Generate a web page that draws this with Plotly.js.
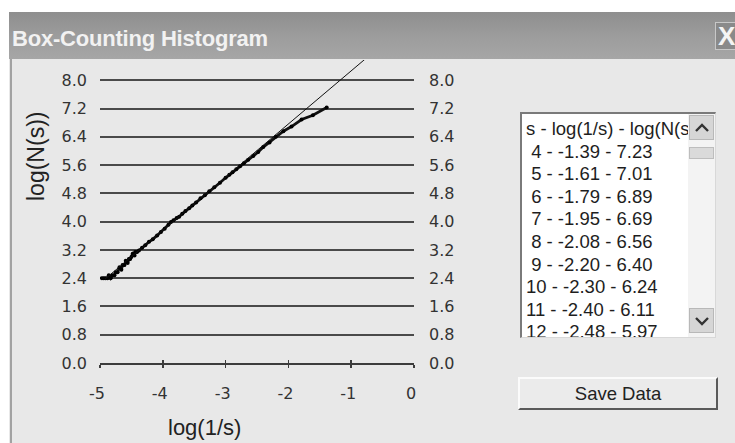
<!DOCTYPE html>
<html>
<head>
<meta charset="utf-8">
<script src="https://cdn.plot.ly/plotly-3.0.1.min.js"></script>
<style>
  html, body { margin:0; padding:0; width:735px; height:443px; overflow:hidden; background:#ffffff; }
  #dlg { position:absolute; left:9px; top:12px; width:726px; height:431px; background:#e8e8e8; }
  #leftborder { position:absolute; left:10px; top:59px; width:2px; height:384px; background:#a2a2a2; }
  #titlebar { position:absolute; left:9px; top:12px; width:726px; height:47px;
    background:linear-gradient(#8e8e8e, #9c9c9c 50%, #a6a6a6); }
  #titletext { position:absolute; left:12px; top:28px; font-family:"Liberation Sans", Arial, sans-serif;
    font-weight:bold; font-size:22px; line-height:22px; color:#f2f2f2; white-space:nowrap; letter-spacing:-0.2px; }
  #closebtn { position:absolute; left:715px; top:22px; width:22px; height:28px; background:#8a8a8a;
    border:1px solid #c8c8c8; box-sizing:border-box; color:#f4f4f4; font-family:"Liberation Sans", Arial, sans-serif;
    font-weight:bold; font-size:26px; line-height:26px; padding-left:2px; }
  #plot { position:absolute; left:0; top:0; width:735px; height:443px; }
  #listbox { position:absolute; left:520px; top:112px; width:196px; height:226px; background:#ffffff;
    border-top:2px solid #7a7a7a; border-left:2px solid #7a7a7a; border-right:1px solid #d8d8d8; border-bottom:1px solid #d8d8d8;
    box-sizing:border-box; overflow:hidden; }
  #listtext { position:absolute; left:4px; top:4px; width:162px; overflow:hidden; font-family:"Liberation Sans", Arial, sans-serif;
    font-size:18.5px; line-height:22.6px; color:#1e1e1e; white-space:nowrap; }
  #scroll { position:absolute; right:0px; top:0px; width:27px; height:223px; background:#f3f3f3; }
  .sbtn { position:absolute; left:1px; width:25px; height:25px; background:#d6d6d6; border:1px solid #b8b8b8; box-sizing:border-box; }
  .sbtn svg { position:absolute; left:5px; top:7px; }
  #thumb { position:absolute; left:1px; top:33px; width:25px; height:12px; background:#dadada; border:1px solid #bdbdbd; box-sizing:border-box; }
  #savebtn { position:absolute; left:518px; top:377px; width:200px; height:33px; box-sizing:border-box;
    border-top:2px solid #fbfbfb; border-left:2px solid #fbfbfb; border-right:2px solid #5a5a5a; border-bottom:2px solid #5a5a5a;
    background:#ebebeb; text-align:center; font-family:"Liberation Sans", Arial, sans-serif; font-size:18.5px; line-height:29px; color:#222; }
</style>
</head>
<body>
<div id="dlg"></div>
<div id="leftborder"></div>
<div id="plot"></div>
<div id="titlebar"></div>
<div id="titletext">Box-Counting Histogram</div>
<div id="closebtn">X</div>
<div id="listbox">
  <div id="listtext"></div>
  <div id="scroll">
    <div class="sbtn" style="top:1px;"><svg width="14" height="10"><polyline points="1,8 7,2 13,8" fill="none" stroke="#333" stroke-width="2.4"/></svg></div>
    <div id="thumb"></div>
    <div class="sbtn" style="top:194px;"><svg width="14" height="10"><polyline points="1,2 7,8 13,2" fill="none" stroke="#333" stroke-width="2.4"/></svg></div>
  </div>
</div>
<div id="savebtn">Save Data</div>
<script>
// ---- data ----
const listHeader = "s - log(1/s) - log(N(s))";
const listS = [4, 5, 6, 7, 8, 9, 10, 11, 12];
const listLogInvS = ["-1.39", "-1.61", "-1.79", "-1.95", "-2.08", "-2.20", "-2.30", "-2.40", "-2.48"];
const listLogN = ["7.23", "7.01", "6.89", "6.69", "6.56", "6.40", "6.24", "6.11", "5.97"];

const logInvS = [-1.39,-1.61,-1.79,-1.95,-2.08,-2.20,-2.30,-2.40,-2.48,-2.56,-2.64,-2.71,-2.77,-2.83,-2.89,-2.94,-3.00,-3.09,-3.18,-3.26,-3.33,-3.40,-3.47,-3.53,-3.58,-3.64,-3.69,-3.74,-3.78,-3.83,-3.87,-3.91,-3.97,-4.03,-4.09,-4.16,-4.22,-4.28,-4.33,-4.38,-4.41,-4.44,-4.45,-4.48,-4.50,-4.52,-4.54,-4.56,-4.59,-4.61,-4.64,-4.66,-4.69,-4.72,-4.75,-4.77,-4.80,-4.83,-4.86,-4.88,-4.91,-4.94,-4.97];
const logN = [7.23,7.01,6.89,6.69,6.56,6.40,6.24,6.11,5.97,5.86,5.75,5.65,5.57,5.48,5.40,5.33,5.24,5.10,4.97,4.86,4.75,4.66,4.54,4.46,4.38,4.30,4.22,4.14,4.10,4.04,3.99,3.91,3.80,3.71,3.61,3.50,3.43,3.33,3.26,3.18,3.14,3.14,3.04,3.09,3.00,2.94,2.94,2.83,2.89,2.77,2.77,2.64,2.71,2.57,2.57,2.48,2.48,2.40,2.48,2.40,2.40,2.40,2.40];

const fitSlope = 1.503;
const fitIntercept = 9.77;
const fitXRange = [-4.92, -0.5];

const yTicks = [0, 0.8, 1.6, 2.4, 3.2, 4.0, 4.8, 5.6, 6.4, 7.2, 8.0];
const yTickText = ["0.0", "0.8", "1.6", "2.4", "3.2", "4.0", "4.8", "5.6", "6.4", "7.2", "8.0"];
const xTicks = [-5, -4, -3, -2, -1, 0];
const xTickText = ["-5", "-4", "-3", "-2", "-1", "0"];

// ---- list box ----
const lt = document.getElementById('listtext');
let html = '<div>' + listHeader + '</div>';
listS.forEach((s, i) => {
  const pad = s < 10 ? '&nbsp;' : '';
  html += '<div>' + pad + s + ' - ' + listLogInvS[i] + ' - ' + listLogN[i] + '</div>';
});
lt.innerHTML = html;

// ---- chart ----
const fitY = fitXRange.map(x => fitIntercept + fitSlope * x);
const yRange = [0, 8.574];
const xRange = [-5, 0];
const tickFont = {family: 'DejaVu Sans, sans-serif', size: 16, color: '#333333'};

const traces = [
  {x: fitXRange, y: fitY, xaxis: 'x2', yaxis: 'y2', mode: 'lines', line: {color: '#111111', width: 1}, hoverinfo: 'skip'},
  {x: logInvS, y: logN, mode: 'lines+markers', line: {color: '#111111', width: 2.8}, marker: {color: '#000000', size: 4}}
];

const layout = {
  width: 735, height: 443,
  margin: {l: 100, r: 321, t: 60, b: 80, pad: 0},
  paper_bgcolor: 'rgba(0,0,0,0)', plot_bgcolor: 'rgba(0,0,0,0)',
  showlegend: false,
  xaxis: {range: xRange, tickvals: xTicks, ticktext: xTickText, showgrid: false, zeroline: false,
    showline: true, linecolor: '#3c3c3c', linewidth: 2, ticks: 'outside', ticklen: 3, tickwidth: 1.5, tickcolor: '#3c3c3c',
    tickfont: tickFont, ticklabelstandoff: 12, ticklabelshift: -3, fixedrange: true},
  xaxis2: {range: xRange, overlaying: 'x', anchor: 'y2', side: 'bottom', tickvals: xTicks, showticklabels: false,
    showgrid: false, zeroline: false, ticks: 'inside', ticklen: 3, tickwidth: 1.5, tickcolor: '#3c3c3c', fixedrange: true},
  yaxis: {range: yRange, tickvals: yTicks, ticktext: yTickText, showgrid: true, gridcolor: '#4a4a4a', gridwidth: 2,
    zeroline: false, ticks: '', tickfont: tickFont, ticklabelstandoff: 12, fixedrange: true},
  yaxis2: {range: yRange, overlaying: 'y', side: 'right', anchor: 'x2', tickvals: yTicks, ticktext: yTickText, showgrid: false,
    zeroline: false, ticks: '', tickfont: tickFont, ticklabelstandoff: 14, fixedrange: true},
  annotations: [
    {text: 'log(1/s)', xref: 'paper', yref: 'paper', x: 0.334, y: -0.2145, showarrow: false,
      font: {family: 'Liberation Sans, Arial, sans-serif', size: 22, color: '#222222'}, xanchor: 'center', yanchor: 'middle'},
    {text: 'log(N(s))', xref: 'paper', yref: 'paper', x: -0.204, y: 0.683, showarrow: false, textangle: -90,
      font: {family: 'Liberation Sans, Arial, sans-serif', size: 23, color: '#222222'}, xanchor: 'center', yanchor: 'middle'}
  ]
};

Plotly.newPlot('plot', traces, layout, {displayModeBar: false, staticPlot: true});
</script>
</body>
</html>
